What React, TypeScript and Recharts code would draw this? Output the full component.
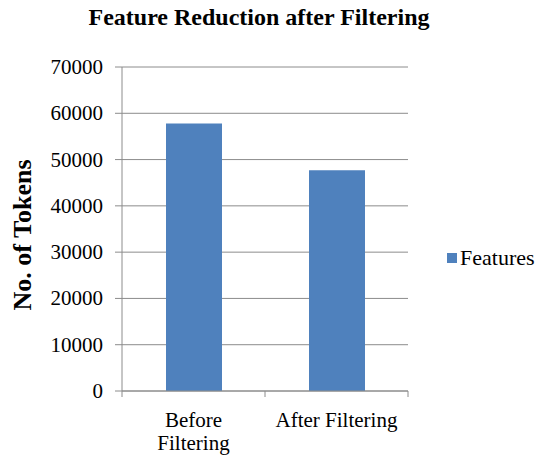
import { BarChart, Bar, XAxis, YAxis, CartesianGrid } from "recharts";

const categories = ["Before Filtering", "After Filtering"];
const features = [57800, 47700];
const yTicks = [0, 10000, 20000, 30000, 40000, 50000, 60000, 70000];

const data = categories.map((name, i) => ({ name, features: features[i] }));

const serif = "'Liberation Serif', 'Times New Roman', serif";
const tickFont = { fontFamily: serif, fontSize: 21 };

// category label, wrapped onto two lines when it doesn't fit, plus Excel-style
// tick marks on the category boundaries
function CategoryTick(props: any) {
  const { x, y, payload, index, width, visibleTicksCount } = props;
  const half = width / visibleTicksCount / 2;
  const lines = payload.value === "Before Filtering" ? ["Before", "Filtering"] : [payload.value];
  return (
    <g>
      <line x1={x - half} y1={y} x2={x - half} y2={y + 6} stroke="#8c8c8c" />
      {index === visibleTicksCount - 1 && (
        <line x1={x + half} y1={y} x2={x + half} y2={y + 6} stroke="#8c8c8c" />
      )}
      <text x={x} y={y + 36} textAnchor="middle" style={tickFont} fill="#000">
        {lines.map((l, i) => (
          <tspan key={l} x={x} dy={i === 0 ? 0 : 23}>
            {l}
          </tspan>
        ))}
      </text>
    </g>
  );
}

function NumberTick(props: any) {
  const { x, y, payload } = props;
  return (
    <text x={x} y={y} dy={7} textAnchor="end" style={tickFont} fill="#000">
      {payload.value}
    </text>
  );
}

function FeatureLegend() {
  return (
    <div style={{ position: "absolute", left: 447, top: 245, display: "flex", alignItems: "center", fontFamily: serif, fontSize: 22, color: "#000" }}>
      <span style={{ display: "inline-block", width: 10, height: 10, background: "#4F81BD", marginRight: 3 }} />
      <span>Features</span>
    </div>
  );
}

export default function App() {
  return (
    <div style={{ position: "absolute", left: 0, top: 0, width: 548, height: 459, background: "#fff" }}>
      <div
        style={{
          position: "absolute",
          top: 4,
          left: 0,
          width: 518,
          textAlign: "center",
          fontFamily: serif,
          fontWeight: "bold",
          fontSize: 24,
          color: "#000",
        }}
      >
        Feature Reduction after Filtering
      </div>
      <BarChart width={548} height={459} data={data} margin={{ top: 67, right: 140, bottom: 0, left: 0 }}>
        <CartesianGrid vertical={false} stroke="#8c8c8c" />
        <XAxis
          dataKey="name"
          stroke="#8c8c8c"
          tickLine={false}
          tickSize={0}
          tickMargin={0}
          tick={<CategoryTick />}
          interval={0}
          height={68}
        />
        <YAxis
          ticks={yTicks}
          domain={[0, 70000]}
          width={122}
          stroke="#8c8c8c"
          tickSize={7}
          tickMargin={12}
          tick={<NumberTick />}
          label={{
            content: () => (
              <text
                x={0}
                y={0}
                transform="translate(31 235) rotate(-90)"
                textAnchor="middle"
                style={{ fontFamily: serif, fontWeight: "bold", fontSize: 26 }}
                fill="#000"
              >
                No. of Tokens
              </text>
            ),
          }}
        />
        <Bar dataKey="features" fill="#4F81BD" barSize={56} isAnimationActive={false} />
      </BarChart>
      <FeatureLegend />
    </div>
  );
}
